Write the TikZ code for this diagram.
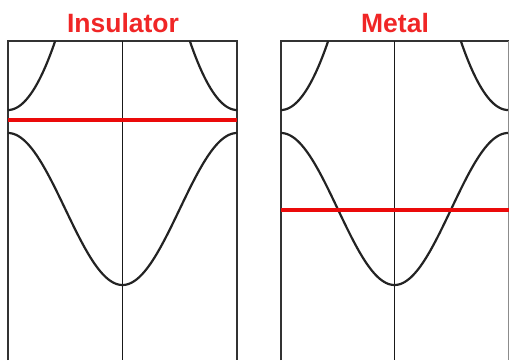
\documentclass[tikz,border=0pt]{standalone}
\usepackage{fontspec}
\setmainfont{Liberation Sans}
\definecolor{titlered}{RGB}{240,38,38}
\definecolor{fermired}{RGB}{235,10,10}
\definecolor{bandgray}{RGB}{35,35,35}
\begin{document}
\begin{tikzpicture}[x=1pt,y=-1pt,
  frame/.style={line width=1.3pt, draw=black!80},
  faint/.style={line width=0.8pt, draw=black!45},
  axis/.style={line width=1.6pt, draw=black!90},
  band/.style={line width=2.2pt, draw=bandgray},
  fermi/.style={line width=3.2pt, draw=fermired},
  title/.style={text=titlered, font=\fontsize{26.5}{30}\selectfont\bfseries, inner sep=0pt, anchor=base}]
\useasboundingbox (0,0) rectangle (509,360);

% ---- Insulator panel ----
\node[title] (tins) at (123,32) {Insulator};
\draw[frame] (8,360) -- (8,41) -- (237,41) -- (237,360);
\draw[axis] (122.5,41) -- (122.5,360);
\draw[band] plot[domain=8:237, samples=120] (\x, {209-76*cos((\x-8)/114.5*180)});
\draw[band] plot[domain=0:47.18, samples=40] ({8+\x},{110-0.031*\x*\x});
\draw[band] plot[domain=0:47.18, samples=40] ({237-\x},{110-0.031*\x*\x});
\draw[fermi] (8,120) -- (237,120);

% ---- Metal panel ----
\node[title] (tmet) at (395,32) {Metal};
\draw[frame] (281,360) -- (281,41) -- (509,41);
\draw[faint] (508,41) -- (508,360);
\draw[axis] (394.5,41) -- (394.5,360);
\draw[band] plot[domain=281:508, samples=120] (\x, {209-76*cos((\x-281)/113.5*180)});
\draw[band] plot[domain=0:47.18, samples=40] ({281+\x},{110-0.031*\x*\x});
\draw[band] plot[domain=0:47.18, samples=40] ({508-\x},{110-0.031*\x*\x});
\draw[fermi] (281,210) -- (509,210);
\end{tikzpicture}
\end{document}
